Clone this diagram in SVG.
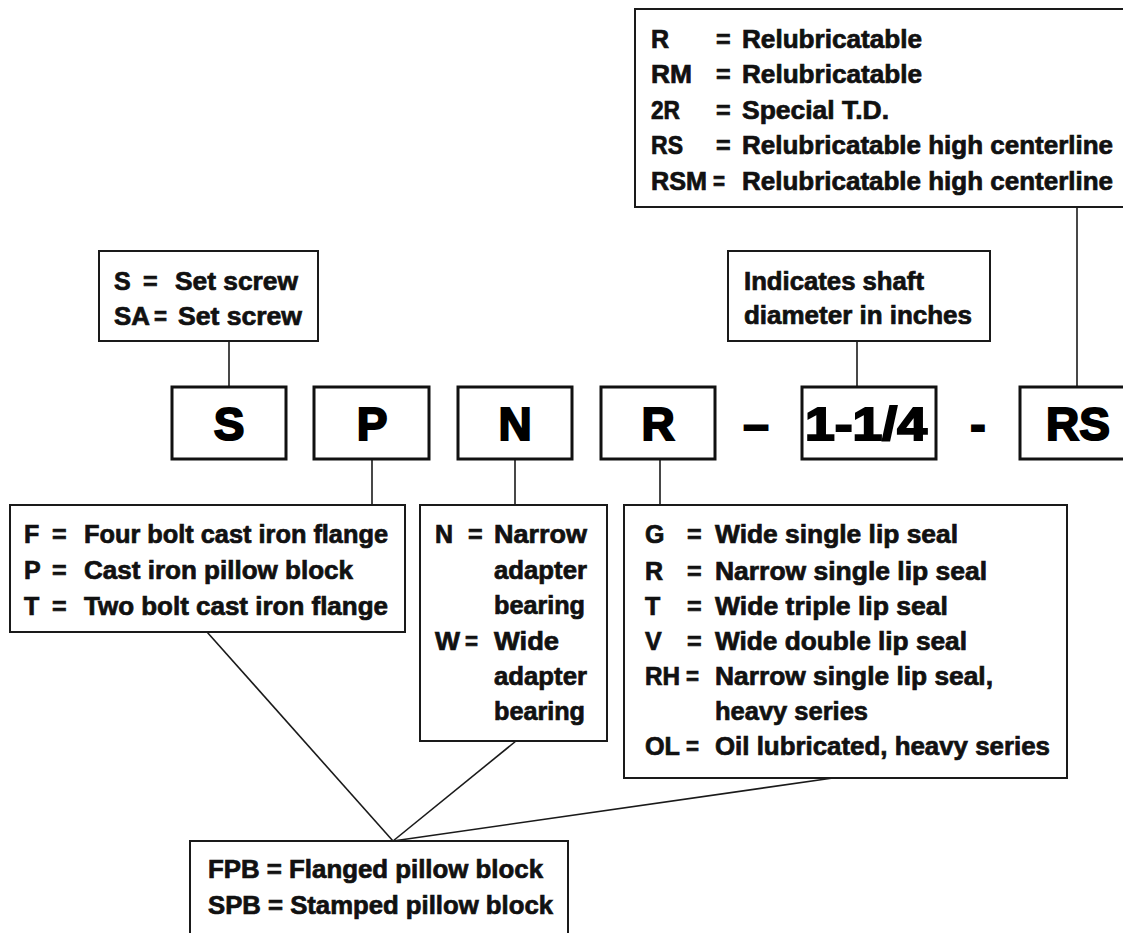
<svg xmlns="http://www.w3.org/2000/svg" width="1123" height="933" viewBox="0 0 1123 933">
<style>
.box{fill:#fff;stroke:#1a1a1a;stroke-width:2}
.big{fill:#fff;stroke:#111;stroke-width:3}
.con{stroke:#1a1a1a;stroke-width:1.6;fill:none}
.t{font-family:"Liberation Sans Narrow","Liberation Sans","DejaVu Sans Condensed",sans-serif;font-weight:bold;font-size:25px;fill:#111;stroke:#111;stroke-width:0.7}
.L{font-family:"Liberation Sans","DejaVu Sans",sans-serif;font-weight:bold;font-size:46px;fill:#000;stroke:#000;stroke-width:2;text-anchor:middle}
</style>
<rect x="0" y="0" width="1123" height="933" fill="#fff"/>

<g id="connectors">
<line class="con" x1="1077" y1="207" x2="1077" y2="387"/>
<line class="con" x1="229" y1="341" x2="229" y2="387"/>
<line class="con" x1="857" y1="341" x2="857" y2="387"/>
<line class="con" x1="372" y1="459" x2="372" y2="505"/>
<line class="con" x1="515" y1="459" x2="515" y2="505"/>
<line class="con" x1="660" y1="459" x2="660" y2="505"/>
<line class="con" x1="207" y1="632" x2="393" y2="841"/>
<line class="con" x1="516" y1="741" x2="393" y2="841"/>
<line class="con" x1="833" y1="778" x2="393" y2="841"/>
</g>

<g id="suffix-legend">
<rect class="box" x="635" y="9" width="500" height="198"/>
<text class="t" x="651" y="48">R</text>
<text class="t" x="716" y="48">=</text>
<text class="t" x="742" y="48" textLength="180" lengthAdjust="spacingAndGlyphs">Relubricatable</text>
<text class="t" x="651" y="83" textLength="41" lengthAdjust="spacingAndGlyphs">RM</text>
<text class="t" x="716" y="83">=</text>
<text class="t" x="742" y="83" textLength="180" lengthAdjust="spacingAndGlyphs">Relubricatable</text>
<text class="t" x="651" y="119" textLength="29" lengthAdjust="spacingAndGlyphs">2R</text>
<text class="t" x="716" y="119">=</text>
<text class="t" x="742" y="119" textLength="147" lengthAdjust="spacingAndGlyphs">Special T.D.</text>
<text class="t" x="651" y="154" textLength="32" lengthAdjust="spacingAndGlyphs">RS</text>
<text class="t" x="716" y="154">=</text>
<text class="t" x="742" y="154" textLength="371" lengthAdjust="spacingAndGlyphs">Relubricatable high centerline</text>
<text class="t" x="651" y="190" textLength="56" lengthAdjust="spacingAndGlyphs">RSM</text>
<text class="t" x="713" y="190" textLength="12" lengthAdjust="spacingAndGlyphs">=</text>
<text class="t" x="742" y="190" textLength="371" lengthAdjust="spacingAndGlyphs">Relubricatable high centerline</text>
</g>

<g id="setscrew-legend">
<rect class="box" x="99" y="251" width="219" height="90"/>
<text class="t" x="114" y="290">S</text>
<text class="t" x="143" y="290">=</text>
<text class="t" x="175" y="290" textLength="123" lengthAdjust="spacingAndGlyphs">Set screw</text>
<text class="t" x="114" y="325" textLength="36" lengthAdjust="spacingAndGlyphs">SA</text>
<text class="t" x="154" y="325" textLength="13" lengthAdjust="spacingAndGlyphs">=</text>
<text class="t" x="178" y="325" textLength="124" lengthAdjust="spacingAndGlyphs">Set screw</text>
</g>

<g id="shaft-legend">
<rect class="box" x="728" y="251" width="262" height="90"/>
<text class="t" x="744" y="290" textLength="180" lengthAdjust="spacingAndGlyphs">Indicates shaft</text>
<text class="t" x="744" y="324" textLength="228" lengthAdjust="spacingAndGlyphs">diameter in inches</text>
</g>

<g id="code-S"><rect class="big" x="172" y="387" width="114" height="72"/><text class="L" x="229" y="440">S</text></g>
<g id="code-P"><rect class="big" x="314" y="387" width="115" height="72"/><text class="L" x="372" y="440">P</text></g>
<g id="code-N"><rect class="big" x="458" y="387" width="114" height="72"/><text class="L" x="515" y="440">N</text></g>
<g id="code-R"><rect class="big" x="601" y="387" width="114" height="72"/><text class="L" x="658" y="440">R</text></g>
<g id="dash1"><text class="L" x="756" y="440">–</text></g>
<g id="code-size"><rect class="big" x="802" y="387" width="134" height="72"/><text class="L" x="866" y="440" textLength="122" lengthAdjust="spacingAndGlyphs">1-1/4</text></g>
<g id="dash2"><text class="L" x="978" y="440">-</text></g>
<g id="code-RS"><rect class="big" x="1020" y="387" width="120" height="72"/><text class="L" x="1078" y="440">RS</text></g>

<g id="housing-legend">
<rect class="box" x="10" y="505" width="395" height="127"/>
<text class="t" x="24" y="543">F</text>
<text class="t" x="52" y="543">=</text>
<text class="t" x="84" y="543" textLength="304" lengthAdjust="spacingAndGlyphs">Four bolt cast iron flange</text>
<text class="t" x="24" y="579">P</text>
<text class="t" x="52" y="579">=</text>
<text class="t" x="84" y="579" textLength="269" lengthAdjust="spacingAndGlyphs">Cast iron pillow block</text>
<text class="t" x="24" y="615">T</text>
<text class="t" x="52" y="615">=</text>
<text class="t" x="84" y="615" textLength="304" lengthAdjust="spacingAndGlyphs">Two bolt cast iron flange</text>
</g>

<g id="adapter-legend">
<rect class="box" x="420" y="505" width="187" height="236"/>
<text class="t" x="435" y="543">N</text>
<text class="t" x="468" y="543">=</text>
<text class="t" x="494" y="543" textLength="93" lengthAdjust="spacingAndGlyphs">Narrow</text>
<text class="t" x="494" y="579" textLength="93" lengthAdjust="spacingAndGlyphs">adapter</text>
<text class="t" x="494" y="614" textLength="91" lengthAdjust="spacingAndGlyphs">bearing</text>
<text class="t" x="435" y="650" textLength="25" lengthAdjust="spacingAndGlyphs">W</text>
<text class="t" x="465" y="650" textLength="13" lengthAdjust="spacingAndGlyphs">=</text>
<text class="t" x="494" y="650" textLength="65" lengthAdjust="spacingAndGlyphs">Wide</text>
<text class="t" x="494" y="685" textLength="93" lengthAdjust="spacingAndGlyphs">adapter</text>
<text class="t" x="494" y="720" textLength="91" lengthAdjust="spacingAndGlyphs">bearing</text>
</g>

<g id="seal-legend">
<rect class="box" x="624" y="505" width="443" height="273"/>
<text class="t" x="645" y="543">G</text>
<text class="t" x="687" y="543">=</text>
<text class="t" x="715" y="543" textLength="243" lengthAdjust="spacingAndGlyphs">Wide single lip seal</text>
<text class="t" x="645" y="580">R</text>
<text class="t" x="687" y="580">=</text>
<text class="t" x="715" y="580" textLength="272" lengthAdjust="spacingAndGlyphs">Narrow single lip seal</text>
<text class="t" x="645" y="615">T</text>
<text class="t" x="687" y="615">=</text>
<text class="t" x="715" y="615" textLength="233" lengthAdjust="spacingAndGlyphs">Wide triple lip seal</text>
<text class="t" x="645" y="650">V</text>
<text class="t" x="687" y="650">=</text>
<text class="t" x="715" y="650" textLength="252" lengthAdjust="spacingAndGlyphs">Wide double lip seal</text>
<text class="t" x="645" y="685" textLength="35" lengthAdjust="spacingAndGlyphs">RH</text>
<text class="t" x="686" y="685" textLength="13" lengthAdjust="spacingAndGlyphs">=</text>
<text class="t" x="715" y="685" textLength="278" lengthAdjust="spacingAndGlyphs">Narrow single lip seal,</text>
<text class="t" x="715" y="720" textLength="153" lengthAdjust="spacingAndGlyphs">heavy series</text>
<text class="t" x="645" y="755" textLength="35" lengthAdjust="spacingAndGlyphs">OL</text>
<text class="t" x="686" y="755" textLength="13" lengthAdjust="spacingAndGlyphs">=</text>
<text class="t" x="715" y="755" textLength="335" lengthAdjust="spacingAndGlyphs">Oil lubricated, heavy series</text>
</g>

<g id="pillow-legend">
<rect class="box" x="190" y="841" width="378" height="110"/>
<text class="t" x="208" y="878" textLength="335" lengthAdjust="spacingAndGlyphs">FPB = Flanged pillow block</text>
<text class="t" x="208" y="914" textLength="345" lengthAdjust="spacingAndGlyphs">SPB = Stamped pillow block</text>
</g>
</svg>
